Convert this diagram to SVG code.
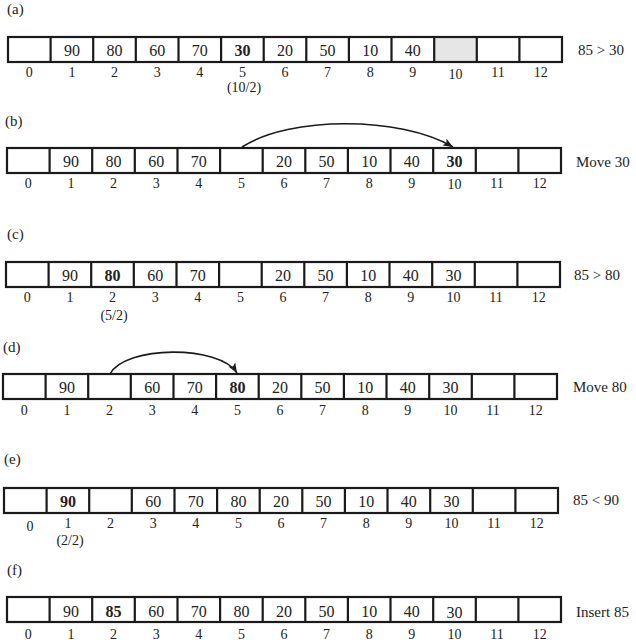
<svg xmlns="http://www.w3.org/2000/svg" xmlns:xlink="http://www.w3.org/1999/xlink" width="636" height="644" viewBox="0 0 636 644">
<style>
  text { font-family: "Liberation Serif", "Times New Roman", serif; fill: #222; }
  .v { font-size: 16px; text-anchor: middle; }
  .b { font-weight: bold; }
  .i { font-size: 14px; text-anchor: middle; }
  .s { font-size: 14px; text-anchor: middle; }
  .r { font-size: 15px; }
  .p { font-size: 15px; }
  .grid { fill: none; stroke: #1a1a1a; stroke-width: 2.2; }
  .arc { fill: none; stroke: #1a1a1a; stroke-width: 1.6; }
</style>
<defs>
  <g id="cells" class="grid">
    <rect x="0" y="0" width="554" height="25"/>
    <path d="M42.6,0V25M85.2,0V25M127.8,0V25M170.5,0V25M213.1,0V25M255.7,0V25M298.3,0V25M340.9,0V25M383.5,0V25M426.2,0V25M468.8,0V25M511.4,0V25"/>
  </g>
  <marker id="ah" viewBox="0 0 10 8" refX="10" refY="4" markerWidth="10" markerHeight="8" markerUnits="userSpaceOnUse" orient="auto">
    <path d="M0,0 L10,4 L0,8 L2.5,4 Z" fill="#1a1a1a"/>
  </marker>
</defs>

<rect x="0" y="0" width="636" height="644" fill="#fff"/>

<g id="row-a" transform="translate(8,37)">
  <rect x="426.2" y="0" width="42.6" height="25" fill="#e6e6e6"/>
  <use xlink:href="#cells"/>
  <text class="p" x="-1" y="-23">(a)</text>
  <text class="v" x="63.9" y="19">90</text>
  <text class="v" x="106.5" y="19">80</text>
  <text class="v" x="149.2" y="19">60</text>
  <text class="v" x="191.8" y="19">70</text>
  <text class="v b" x="234.4" y="19">30</text>
  <text class="v" x="277.0" y="19">20</text>
  <text class="v" x="319.6" y="19">50</text>
  <text class="v" x="362.2" y="19">10</text>
  <text class="v" x="404.8" y="19">40</text>
  <text class="i" x="21.3" y="40">0</text>
  <text class="i" x="63.9" y="40">1</text>
  <text class="i" x="106.5" y="40">2</text>
  <text class="i" x="149.2" y="40">3</text>
  <text class="i" x="191.8" y="40">4</text>
  <text class="i" x="234.4" y="40">5</text>
  <text class="i" x="277.0" y="40">6</text>
  <text class="i" x="319.6" y="40">7</text>
  <text class="i" x="362.2" y="40">8</text>
  <text class="i" x="404.8" y="40">9</text>
  <text class="i" x="447.5" y="42">10</text>
  <text class="i" x="490.1" y="40">11</text>
  <text class="i" x="532.7" y="40">12</text>
  <text class="s" x="236" y="55">(10/2)</text>
  <text class="r" x="570" y="18">85 &gt; 30</text>
</g>

<g id="row-b" transform="translate(7,148)">
  <use xlink:href="#cells"/>
  <text class="p" x="-2" y="-22">(b)</text>
  <text class="v" x="63.9" y="19">90</text>
  <text class="v" x="106.5" y="19">80</text>
  <text class="v" x="149.2" y="19">60</text>
  <text class="v" x="191.8" y="19">70</text>
  <text class="v" x="277.0" y="19">20</text>
  <text class="v" x="319.6" y="19">50</text>
  <text class="v" x="362.2" y="19">10</text>
  <text class="v" x="404.8" y="19">40</text>
  <text class="v b" x="447.5" y="19">30</text>
  <text class="i" x="21.3" y="40">0</text>
  <text class="i" x="63.9" y="40">1</text>
  <text class="i" x="106.5" y="40">2</text>
  <text class="i" x="149.2" y="40">3</text>
  <text class="i" x="191.8" y="40">4</text>
  <text class="i" x="234.4" y="40">5</text>
  <text class="i" x="277.0" y="40">6</text>
  <text class="i" x="319.6" y="40">7</text>
  <text class="i" x="362.2" y="40">8</text>
  <text class="i" x="404.8" y="40">9</text>
  <text class="i" x="447.5" y="41">10</text>
  <text class="i" x="490.1" y="40">11</text>
  <text class="i" x="532.7" y="40">12</text>
  <text class="r" x="569" y="19">Move 30</text>
</g>

<g id="row-c" transform="translate(6,262)">
  <use xlink:href="#cells"/>
  <text class="p" x="1" y="-23">(c)</text>
  <text class="v" x="63.9" y="19">90</text>
  <text class="v b" x="106.5" y="19">80</text>
  <text class="v" x="149.2" y="19">60</text>
  <text class="v" x="191.8" y="19">70</text>
  <text class="v" x="277.0" y="19">20</text>
  <text class="v" x="319.6" y="19">50</text>
  <text class="v" x="362.2" y="19">10</text>
  <text class="v" x="404.8" y="19">40</text>
  <text class="v" x="447.5" y="19">30</text>
  <text class="i" x="21.3" y="40">0</text>
  <text class="i" x="63.9" y="40">1</text>
  <text class="i" x="106.5" y="40">2</text>
  <text class="i" x="149.2" y="40">3</text>
  <text class="i" x="191.8" y="40">4</text>
  <text class="i" x="234.4" y="40">5</text>
  <text class="i" x="277.0" y="40">6</text>
  <text class="i" x="319.6" y="40">7</text>
  <text class="i" x="362.2" y="40">8</text>
  <text class="i" x="404.8" y="40">9</text>
  <text class="i" x="447.5" y="40">10</text>
  <text class="i" x="490.1" y="40">11</text>
  <text class="i" x="532.7" y="40">12</text>
  <text class="s" x="108" y="58">(5/2)</text>
  <text class="r" x="568" y="18">85 &gt; 80</text>
</g>

<g id="row-d" transform="translate(3,374)">
  <use xlink:href="#cells"/>
  <text class="p" x="0" y="-22">(d)</text>
  <text class="v" x="63.9" y="19">90</text>
  <text class="v" x="149.2" y="19">60</text>
  <text class="v" x="191.8" y="19">70</text>
  <text class="v b" x="234.4" y="19">80</text>
  <text class="v" x="277.0" y="19">20</text>
  <text class="v" x="319.6" y="19">50</text>
  <text class="v" x="362.2" y="19">10</text>
  <text class="v" x="404.8" y="19">40</text>
  <text class="v" x="447.5" y="19">30</text>
  <text class="i" x="21.3" y="41">0</text>
  <text class="i" x="63.9" y="41">1</text>
  <text class="i" x="106.5" y="41">2</text>
  <text class="i" x="149.2" y="41">3</text>
  <text class="i" x="191.8" y="41">4</text>
  <text class="i" x="234.4" y="41">5</text>
  <text class="i" x="277.0" y="41">6</text>
  <text class="i" x="319.6" y="41">7</text>
  <text class="i" x="362.2" y="41">8</text>
  <text class="i" x="404.8" y="41">9</text>
  <text class="i" x="447.5" y="41">10</text>
  <text class="i" x="490.1" y="41">11</text>
  <text class="i" x="532.7" y="41">12</text>
  <text class="r" x="570" y="18">Move 80</text>
</g>

<g id="row-e" transform="translate(4,488)">
  <use xlink:href="#cells"/>
  <text class="p" x="0" y="-24">(e)</text>
  <text class="v b" x="63.9" y="19">90</text>
  <text class="v" x="149.2" y="19">60</text>
  <text class="v" x="191.8" y="19">70</text>
  <text class="v" x="234.4" y="19">80</text>
  <text class="v" x="277.0" y="19">20</text>
  <text class="v" x="319.6" y="19">50</text>
  <text class="v" x="362.2" y="19">10</text>
  <text class="v" x="404.8" y="19">40</text>
  <text class="v" x="447.5" y="19">30</text>
  <text class="i" x="26" y="43">0</text>
  <text class="i" x="63.9" y="40">1</text>
  <text class="i" x="106.5" y="40">2</text>
  <text class="i" x="149.2" y="40">3</text>
  <text class="i" x="191.8" y="40">4</text>
  <text class="i" x="234.4" y="40">5</text>
  <text class="i" x="277.0" y="40">6</text>
  <text class="i" x="319.6" y="40">7</text>
  <text class="i" x="362.2" y="40">8</text>
  <text class="i" x="404.8" y="40">9</text>
  <text class="i" x="447.5" y="40">10</text>
  <text class="i" x="490.1" y="40">11</text>
  <text class="i" x="532.7" y="40">12</text>
  <text class="s" x="66" y="57">(2/2)</text>
  <text class="r" x="569" y="17">85 &lt; 90</text>
</g>

<g id="row-f" transform="translate(7,597)">
  <use xlink:href="#cells"/>
  <text class="p" x="0" y="-22">(f)</text>
  <text class="v" x="63.9" y="20">90</text>
  <text class="v b" x="106.5" y="20">85</text>
  <text class="v" x="149.2" y="20">60</text>
  <text class="v" x="191.8" y="20">70</text>
  <text class="v" x="234.4" y="20">80</text>
  <text class="v" x="277.0" y="20">20</text>
  <text class="v" x="319.6" y="20">50</text>
  <text class="v" x="362.2" y="20">10</text>
  <text class="v" x="404.8" y="20">40</text>
  <text class="v" x="447.5" y="21">30</text>
  <text class="i" x="21.3" y="42">0</text>
  <text class="i" x="63.9" y="42">1</text>
  <text class="i" x="106.5" y="42">2</text>
  <text class="i" x="149.2" y="42">3</text>
  <text class="i" x="191.8" y="42">4</text>
  <text class="i" x="234.4" y="42">5</text>
  <text class="i" x="277.0" y="42">6</text>
  <text class="i" x="319.6" y="42">7</text>
  <text class="i" x="362.2" y="42">8</text>
  <text class="i" x="404.8" y="42">9</text>
  <text class="i" x="447.5" y="42">10</text>
  <text class="i" x="490.1" y="42">11</text>
  <text class="i" x="532.7" y="42">12</text>
  <text class="r" x="569" y="20">Insert 85</text>
</g>

<g id="connectors">
  <path class="arc" d="M242,147 C290,116 400,116 453,147" marker-end="url(#ah)"/>
  <path class="arc" d="M110,374 C125,345 220,345 237,373" marker-end="url(#ah)"/>
</g>
</svg>
